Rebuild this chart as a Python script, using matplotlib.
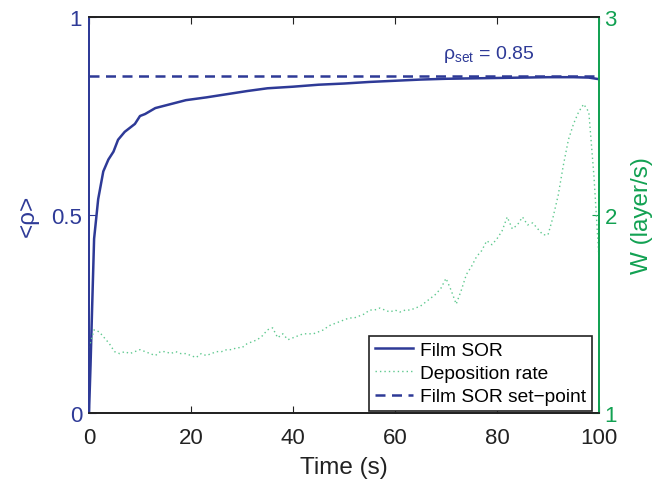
import matplotlib
matplotlib.use("Agg")
import matplotlib.pyplot as plt

plt.rcParams['font.family'] = ['Liberation Sans', 'DejaVu Sans']
plt.rcParams['mathtext.fontset'] = 'custom'
plt.rcParams['mathtext.rm'] = 'Liberation Sans'
plt.rcParams['mathtext.it'] = 'Liberation Sans:italic'

# ---- data ----
t_sor = [0, 0.3, 0.6, 1, 1.8, 2.8, 3.8, 4.8, 5.7, 7, 8, 9, 10, 11, 13, 16, 19,
         23, 27, 31, 35, 40, 45, 50, 55, 60, 65, 70, 75, 80, 85, 90, 95, 98, 100]
sor = [0, 0.12, 0.26, 0.44, 0.54, 0.61, 0.64, 0.66, 0.69, 0.71, 0.72, 0.73,
       0.75, 0.755, 0.77, 0.78, 0.79, 0.797, 0.805, 0.813, 0.82, 0.824, 0.829,
       0.832, 0.836, 0.839, 0.842, 0.844, 0.845, 0.846, 0.847, 0.848, 0.848,
       0.847, 0.843]

t_w = list(range(0, 101))
w_rate = [1.33, 1.42, 1.41, 1.38, 1.35, 1.31, 1.30, 1.31, 1.30, 1.31,
          1.32, 1.31, 1.30, 1.29, 1.31, 1.31, 1.30, 1.31, 1.30, 1.30,
          1.29, 1.28, 1.30, 1.29, 1.30, 1.31, 1.31, 1.32, 1.32, 1.33,
          1.33, 1.35, 1.36, 1.37, 1.39, 1.42, 1.43, 1.38, 1.40, 1.37,
          1.38, 1.39, 1.40, 1.40, 1.40, 1.41, 1.42, 1.44, 1.45, 1.46,
          1.47, 1.48, 1.48, 1.49, 1.50, 1.52, 1.52, 1.53, 1.52, 1.51,
          1.52, 1.51, 1.52, 1.52, 1.53, 1.54, 1.56, 1.58, 1.60, 1.63,
          1.68, 1.62, 1.55, 1.62, 1.70, 1.74, 1.79, 1.82, 1.87, 1.85,
          1.88, 1.92, 1.99, 1.93, 1.95, 1.99, 1.95, 1.96, 1.93, 1.90,
          1.90, 1.99, 2.10, 2.25, 2.38, 2.46, 2.52, 2.56, 2.52, 2.20, 1.78]

setpoint = 0.85

blue = '#2e3a97'
green = '#12a152'
lightgreen = '#5fc98f'

fig = plt.figure(figsize=(6.63, 4.85), dpi=100)
ax = fig.add_axes([89/663, 1-414/485, 510/663, 396/485])
ax2 = ax.twinx()

l1, = ax.plot(t_sor, sor, color=blue, lw=1.8, label='Film SOR')
l3, = ax.plot([0, 100], [setpoint, setpoint], color=blue, lw=1.8,
              ls=(0, (4, 2.6)), label='Film SOR set\u2212point')
l2, = ax2.plot(t_w, w_rate, color=lightgreen, lw=1.0, ls=(0, (1, 2.2)), label='Deposition rate')

ax.set_xlim(0, 100)
ax.set_ylim(0, 1)
ax2.set_ylim(1, 3)

ax.set_xticks([0, 20, 40, 60, 80, 100])
ax.set_yticks([0, 0.5, 1])
ax.set_yticklabels(['0', '0.5', '1'])
ax2.set_yticks([1, 2, 3])
ax2.set_yticklabels(['1', '2', '3'])

ax.tick_params(axis='x', direction='in', top=True, length=5, labelsize=16, pad=10, colors='#222222')
ax.tick_params(axis='y', direction='in', length=5, labelsize=16, colors=blue, pad=5)
ax2.tick_params(axis='y', direction='in', length=5, labelsize=16, colors=green, pad=4)

for a in (ax, ax2):
    a.spines['top'].set_color('#222222')
    a.spines['bottom'].set_color('#222222')
    a.spines['left'].set_color(blue)
    a.spines['right'].set_color(green)
    for s in a.spines.values():
        s.set_linewidth(1.3)

ax.set_xlabel('Time (s)', fontsize=17.5, color='#222222', labelpad=6)
ax.set_ylabel('<\u03c1>', fontsize=17.5, color=blue, labelpad=9)
ax2.set_ylabel('W (layer/s)', fontsize=17.5, color=green, labelpad=10)

ax.text(69.5, 0.897, r'$\mathrm{ρ}_{\mathrm{set}}$ = 0.85', fontsize=14, color=blue)

leg = ax2.legend([l1, l2, l3], [l1.get_label(), l2.get_label(), l3.get_label()],
                 loc='lower right', bbox_to_anchor=(0.986, 0.005),
                 fontsize=13.8, fancybox=False, framealpha=1,
                 edgecolor='#222222', handlelength=2.0, handletextpad=0.35,
                 borderpad=0.3, labelspacing=0.3, borderaxespad=0.0)
leg.get_frame().set_linewidth(1.2)

fig.savefig('out.png', dpi=100)
